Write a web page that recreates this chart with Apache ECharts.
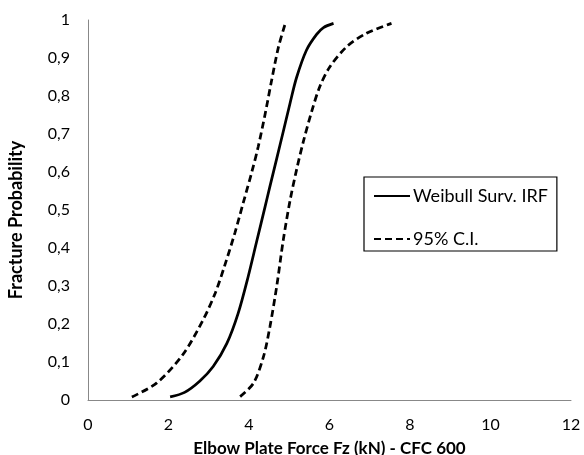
<!DOCTYPE html>
<html><head><meta charset="utf-8">
<script src="https://cdn.jsdelivr.net/npm/echarts@6/dist/echarts.min.js"></script>
<style>html,body{margin:0;padding:0;background:#fff}#c{width:584px;height:455px}</style>
</head><body><div id="c"></div>
<script>
var xTicks = [0, 2, 4, 6, 8, 10, 12];
var yTicks = [0, 0.1, 0.2, 0.3, 0.4, 0.5, 0.6, 0.7, 0.8, 0.9, 1];
var weibullX = [2.04, 2.4, 2.78, 3.11, 3.45, 3.73, 3.98, 4.19, 4.40, 4.52, 4.69, 4.85, 5.02, 5.18, 5.43, 5.68, 5.85, 6.10];
var weibullY = [0.008, 0.02, 0.05, 0.088, 0.149, 0.228, 0.325, 0.417, 0.509, 0.562, 0.636, 0.706, 0.781, 0.848, 0.921, 0.962, 0.98, 0.991];
var lowerCIX = [1.09, 1.71, 2.36, 2.86, 3.16, 3.40, 3.65, 3.86, 4.07, 4.23, 4.40, 4.56, 4.73, 4.89];
var lowerCIY = [0.008, 0.045, 0.12, 0.211, 0.281, 0.355, 0.44, 0.52, 0.6, 0.667, 0.752, 0.84, 0.928, 0.987];
var upperCIX = [3.78, 4.11, 4.36, 4.52, 4.69, 4.85, 5.02, 5.18, 5.35, 5.56, 5.76, 6.01, 6.43, 6.92, 7.54];
var upperCIY = [0.009, 0.044, 0.114, 0.193, 0.30, 0.42, 0.525, 0.605, 0.68, 0.76, 0.825, 0.877, 0.93, 0.965, 0.991];
var seriesNames = ['Weibull Surv. IRF', '95% C.I.'];

function pairs(xs, ys){ return xs.map(function(x,i){ return [x, ys[i]]; }); }
var font = 'Lato, "Open Sans", sans-serif';
var chart = echarts.init(document.getElementById('c'), null, {renderer:'canvas'});
var dash = {color:'#000', width:2.75, type:[7,4]};
chart.setOption({
  animation:false,
  backgroundColor:'#fff',
  grid:{left:88, right:13, top:20, bottom:55, outerBoundsMode:'none', containLabel:false},
  xAxis:{
    type:'value', min:0, max:12, interval:2,
    name:'Elbow Plate Force Fz (kN) - CFC 600', nameLocation:'middle', nameGap:40,
    nameTextStyle:{fontFamily:font, fontWeight:'bold', fontSize:17, color:'#000'},
    axisLine:{show:true, lineStyle:{color:'#888', width:1}},
    axisTick:{show:false}, splitLine:{show:false},
    axisLabel:{fontFamily:font, fontSize:16, color:'#000', margin:17}
  },
  yAxis:{
    type:'value', min:0, max:1, interval:0.1,
    name:'Fracture Probability', nameLocation:'middle', nameGap:63, nameRotate:90,
    nameTextStyle:{fontFamily:font, fontWeight:'bold', fontSize:18, color:'#000', padding:[0,0,0,-20]},
    axisLine:{show:true, lineStyle:{color:'#888', width:1}},
    axisTick:{show:false}, splitLine:{show:false},
    axisLabel:{fontFamily:font, fontSize:16, color:'#000', margin:18,
      formatter:function(v){ return String(Math.round(v*10)/10).replace('.', ','); }}
  },
  legend:{
    data:seriesNames, orient:'vertical', left:364, top:177,
    padding:[10,9,3,9], itemGap:25, itemWidth:36, itemHeight:14,
    borderColor:'#000', borderWidth:1.2,
    itemStyle:{opacity:0},
    textStyle:{fontFamily:font, fontSize:18, color:'#000', padding:[0,0,0,-2]}
  },
  series:[
    {name:seriesNames[0], type:'line', data:pairs(weibullX, weibullY), smooth:0.3, showSymbol:false, symbol:'none',
     lineStyle:{color:'#000', width:2.75}, itemStyle:{color:'#000'}},
    {name:seriesNames[1], type:'line', data:pairs(lowerCIX, lowerCIY), smooth:0.3, showSymbol:false, symbol:'none',
     lineStyle:dash, itemStyle:{color:'#000'}},
    {name:seriesNames[1], type:'line', data:pairs(upperCIX, upperCIY), smooth:0.3, showSymbol:false, symbol:'none',
     lineStyle:dash, itemStyle:{color:'#000'}}
  ]
});
</script></body></html>
